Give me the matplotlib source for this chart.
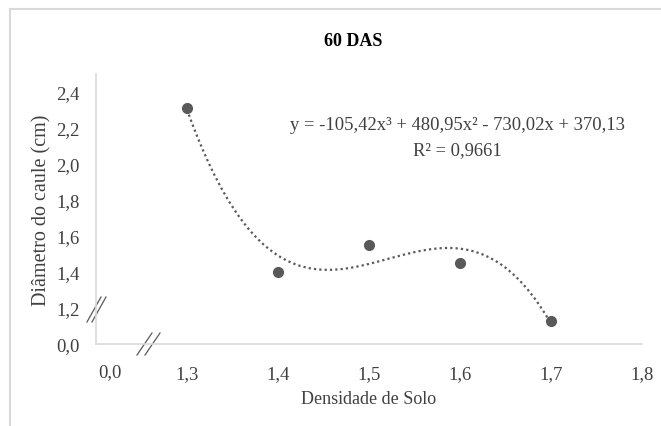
import numpy as np
import matplotlib
matplotlib.use('Agg')
import matplotlib.pyplot as plt
from matplotlib.patches import Rectangle

# data
densidade = [1.3, 1.4, 1.5, 1.6, 1.7]
diametro = [2.31, 1.40, 1.55, 1.45, 1.13]
# cubic trendline coefficients (from the equation printed on the chart)
coef = [-105.42, 480.95, -730.02, 370.13]
x_ticks = [1.3, 1.4, 1.5, 1.6, 1.7, 1.8]
x_labels = ['1,3', '1,4', '1,5', '1,6', '1,7', '1,8']
y_ticks = [1.0, 1.2, 1.4, 1.6, 1.8, 2.0, 2.2, 2.4]
y_labels = ['0,0', '1,2', '1,4', '1,6', '1,8', '2,0', '2,2', '2,4']

plt.rcParams['font.family'] = ['Liberation Serif', 'DejaVu Serif']

fig = plt.figure(figsize=(6.61, 4.27), dpi=100)
W, H = 661, 427

# outer chart frame (light grey, cut at right/bottom)
fig.patches.append(Rectangle((10 / W, -0.1), 1.2, (H - 10) / H + 0.1,
                             transform=fig.transFigure, fill=False,
                             edgecolor='#d9d9d9', linewidth=1.5))

ax = fig.add_axes([96 / W, (H - 345) / H, 546 / W, 270 / H])
ax.set_xlim(1.2, 1.8)
ax.set_ylim(1.0, 2.5)

grey = '#595959'
xs = np.linspace(1.3, 1.7, 200)
ax.plot(xs, np.polyval(coef, xs), color=grey, linestyle=(0, (1, 1.4)), linewidth=1.6)
ax.plot(densidade, diametro, 'o', color=grey, markersize=7, zorder=3)

for s in ['top', 'right']:
    ax.spines[s].set_visible(False)
for s in ['left', 'bottom']:
    ax.spines[s].set_color('#d9d9d9')
    ax.spines[s].set_linewidth(1.2)

ax.set_xticks(x_ticks)
ax.set_xticklabels(x_labels)
ax.set_yticks(y_ticks)
ax.set_yticklabels(y_labels)
ax.tick_params(length=0, labelsize=13.5, colors='#404040')
ax.tick_params(axis='y', pad=12)
ax.tick_params(axis='x', pad=15)

# extra "0,0" label at the start of the x axis
ax.text((110 - 96) / 546, -28 / 270, '0,0', transform=ax.transAxes,
        ha='center', va='center', fontsize=13.5, color='#404040')

# axis break marks
for dx in (0, 5):
    ax.plot([(87 + dx - 96) / 546, (101 + dx - 96) / 546],
            [(345 - 323) / 270, (345 - 298) / 270],
            transform=ax.transAxes, color=grey, linewidth=0.9, clip_on=False)
    ax.plot([(137 + dx * 1.6 - 96) / 546, (152 + dx * 1.6 - 96) / 546],
            [(345 - 356) / 270, (345 - 334) / 270],
            transform=ax.transAxes, color=grey, linewidth=0.9, clip_on=False)

ax.set_xlabel('Densidade de Solo', fontsize=13, color='#404040', labelpad=6)
ax.set_ylabel('Diâmetro do caule (cm)', fontsize=14.5, color='#404040', labelpad=3)

fig.text(353 / W, 1 - 42 / H, '60 DAS', ha='center', va='center',
         fontsize=13, fontweight='bold', color='black')

ax.text(457 / W, 1 - 126 / H, 'y = -105,42x³ + 480,95x² - 730,02x + 370,13',
        transform=fig.transFigure, ha='center', va='center', fontsize=13.4, color='#404040')
ax.text(457 / W, 1 - 151 / H, 'R² = 0,9661',
        transform=fig.transFigure, ha='center', va='center', fontsize=13.4, color='#404040')

fig.savefig('out.png', dpi=100)
